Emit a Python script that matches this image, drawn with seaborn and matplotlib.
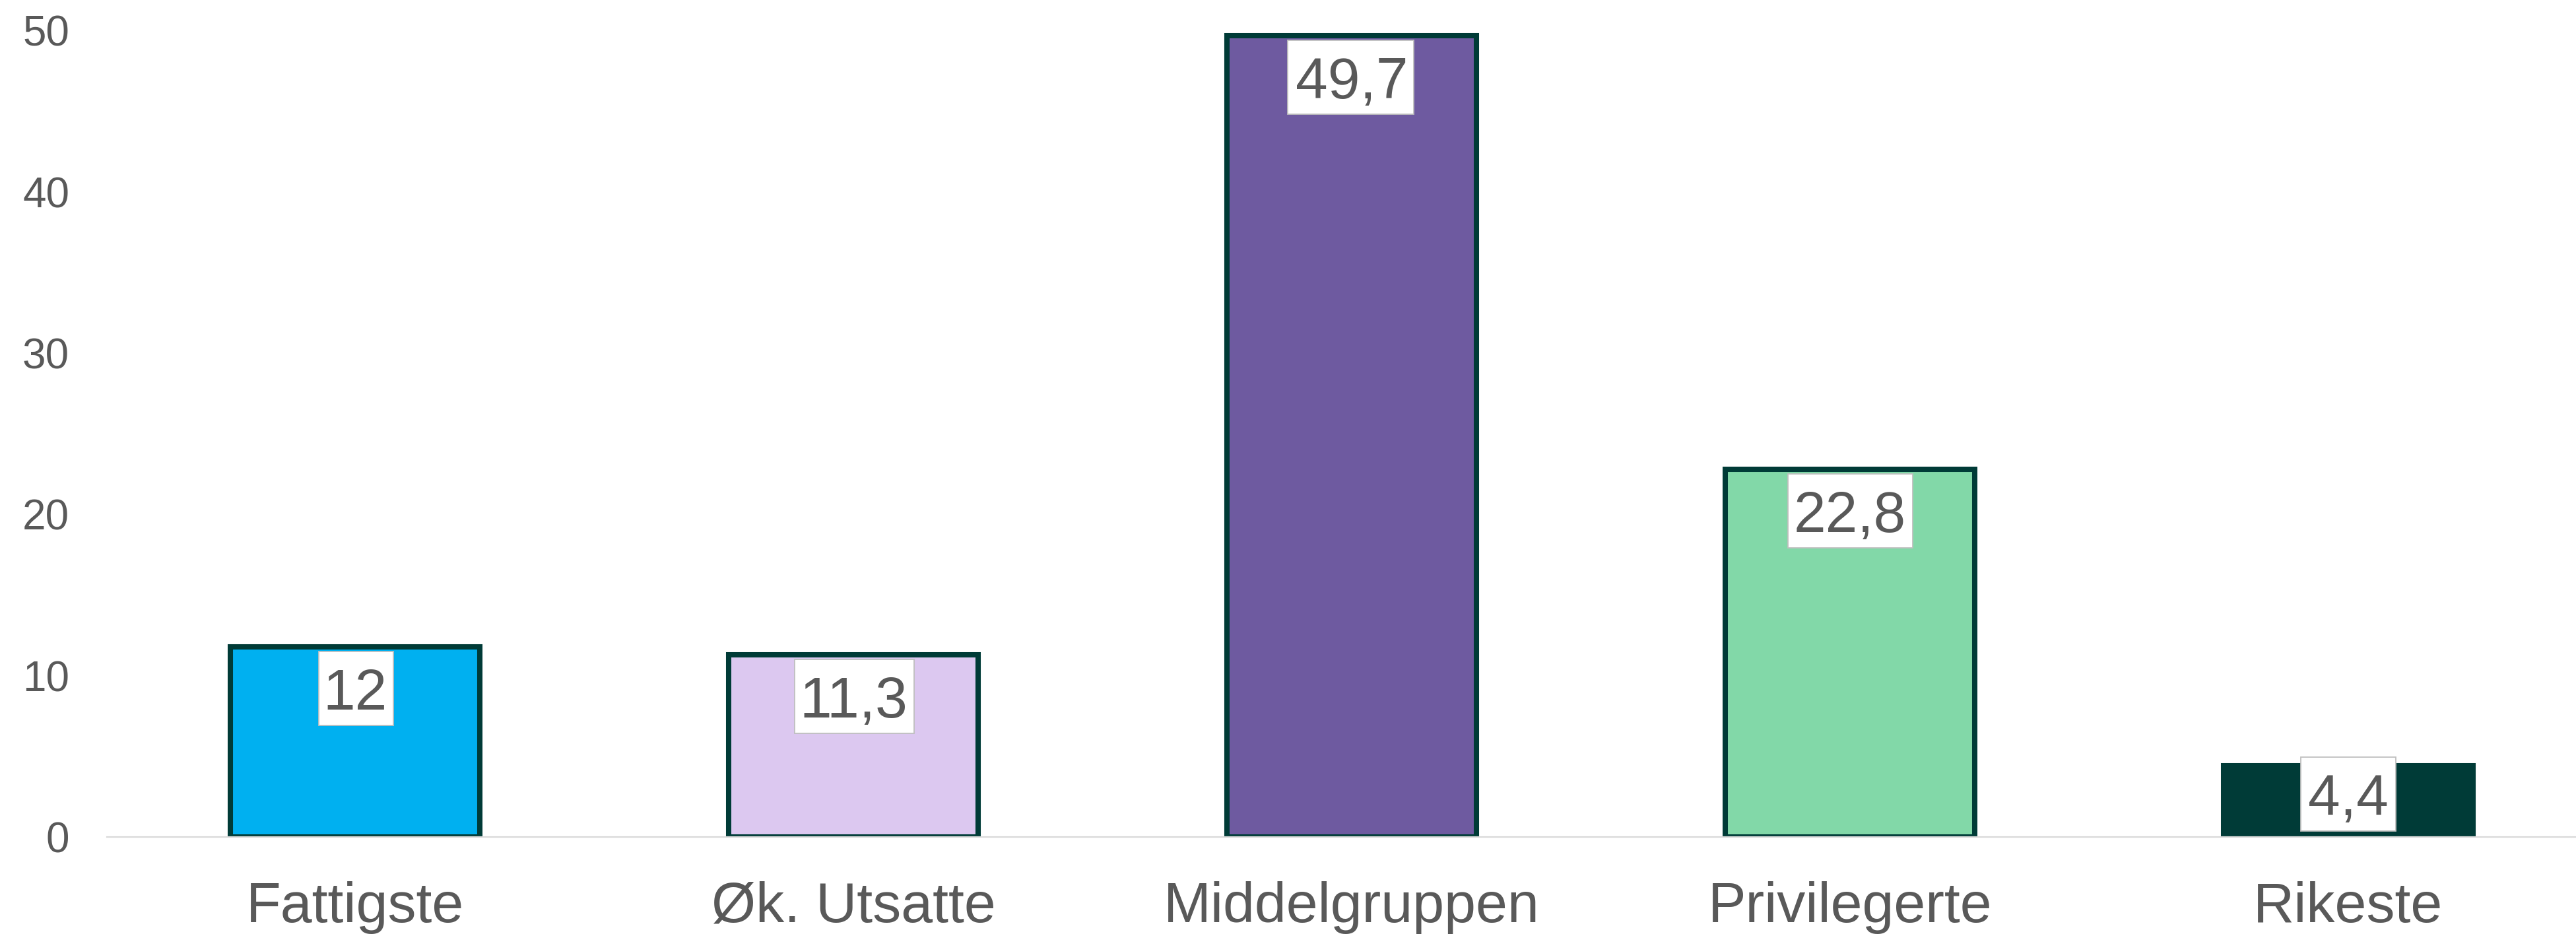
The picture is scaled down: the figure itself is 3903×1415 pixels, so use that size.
import matplotlib
matplotlib.use('Agg')
import matplotlib.pyplot as plt
import matplotlib.transforms as mtransforms
import pandas as pd
import seaborn as sns
from matplotlib.font_manager import FontProperties
from matplotlib.patches import Rectangle
from matplotlib.textpath import TextPath

# data
categories = ['Fattigste', 'Øk. Utsatte', 'Middelgruppen', 'Privilegerte', 'Rikeste']
values = [11.8, 11.3, 49.7, 22.8, 4.4]
value_labels = ['12', '11,3', '49,7', '22,8', '4,4']
bar_colors = ['#00B0F0', '#DCC8F0', '#6E5AA0', '#82D8A8', '#003B37']
y_ticks = [0, 10, 20, 30, 40, 50]

text_grey = '#595959'
edge_dark = '#003B37'
label_size = 63

df = pd.DataFrame({'gruppe': categories, 'andel': values})

sns.set_style('white')
plt.rcParams['font.family'] = ['Liberation Sans', 'DejaVu Sans']

fig = plt.figure(figsize=(39.03, 14.15), dpi=100)
ax = fig.add_axes([0.0415, 0.1039, 0.9585, 0.8633])

sns.barplot(data=df, x='gruppe', y='andel', hue='gruppe', palette=bar_colors,
            legend=False, width=0.5, edgecolor=edge_dark, linewidth=5.8,
            saturation=1, ax=ax)

ax.set_xlim(-0.498, 4.457)
ax.set_ylim(0, 50)
ax.set_yticks(y_ticks)
ax.set_xlabel('')
ax.set_ylabel('')
ax.tick_params(axis='y', length=0, pad=41, labelsize=46, labelcolor=text_grey)
ax.tick_params(axis='x', length=0, pad=48, labelsize=62, labelcolor=text_grey)

for s in ['left', 'right', 'top']:
    ax.spines[s].set_visible(False)
ax.spines['bottom'].set_color('#D9D9D9')
ax.spines['bottom'].set_linewidth(1.6)
ax.spines['bottom'].set_zorder(5)

# data labels: text on its baseline, white box drawn round the ink afterwards
px_per_unit = 1221.5 / 50
labels = []
for i, (v, lab) in enumerate(zip(values, value_labels)):
    if v * px_per_unit > 140:
        y, dy = v, -95   # box top 8 px under the bar top
    else:
        y, dy = 0, 33    # box bottom 8 px over the axis line
    shift = mtransforms.ScaledTranslation(0, dy / 100, fig.dpi_scale_trans)
    t = ax.text(i, y, lab, ha='center', va='baseline', fontsize=label_size,
                color=text_grey, transform=ax.transData + shift, zorder=7)
    labels.append(t)

fig.canvas.draw()
renderer = fig.canvas.get_renderer()
prop = FontProperties(family=['Liberation Sans'])
for t in labels:
    bb = t.get_window_extent(renderer)
    ink = TextPath((0, 0), t.get_text(), size=label_size * 100 / 72,
                   prop=prop).get_extents()
    mid_x = bb.x0 + (ink.x0 + ink.x1) / 2
    base_y = t.get_transform().transform(t.get_position())[1]
    half_w = ink.width / 2 + 13.5
    rect = Rectangle((mid_x - half_w, base_y - 24.5), 2 * half_w, 112,
                     transform=mtransforms.IdentityTransform(),
                     facecolor='white', edgecolor='#BFBFBF', linewidth=1.3,
                     zorder=6, clip_on=False)
    ax.add_artist(rect)

plt.savefig('out.png', dpi=100)
plt.close()
